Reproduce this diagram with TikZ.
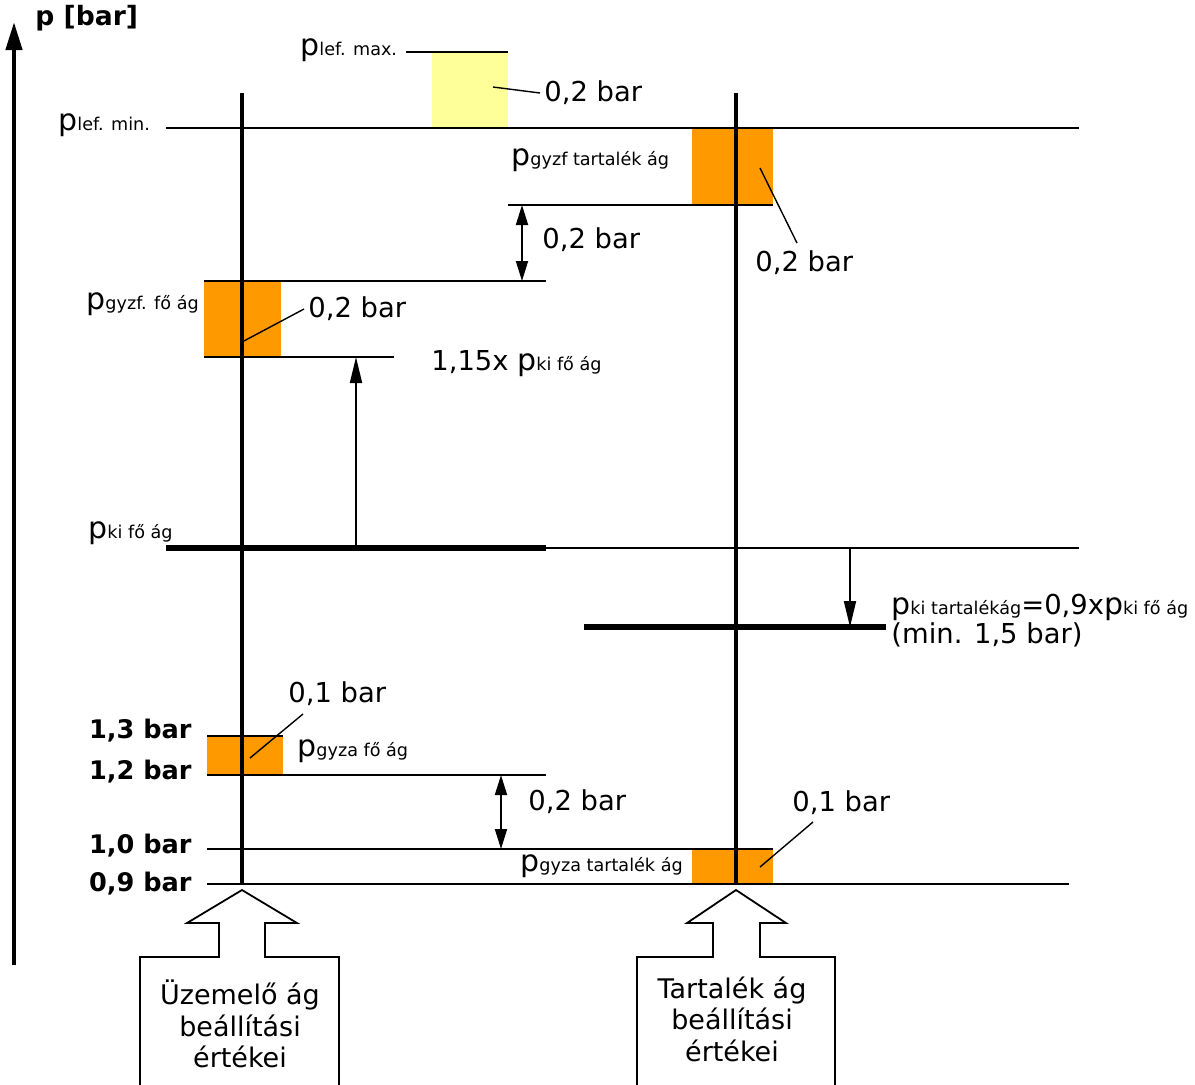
\documentclass[tikz,border=0pt]{standalone}
\usepackage{fontspec}
\setmainfont{DejaVu Sans}
\usetikzlibrary{arrows.meta, positioning}
\definecolor{lefyellow}{HTML}{FFFF99}
\definecolor{gyzorange}{HTML}{FF9900}
\newcommand{\pidx}[1]{{\fontsize{15}{16}\selectfont p}{\fontsize{8.8}{10}\selectfont #1}}

\begin{document}
\begin{tikzpicture}[x=0.5pt, y=-0.5pt,
    lbl/.style={inner sep=0pt, anchor=west, font=\fontsize{13.7}{16}\selectfont},
    barlbl/.style={inner sep=0pt, anchor=east, font=\fontsize{12.8}{15}\selectfont\bfseries},
    level/.style={line width=0.9pt},
    heavy/.style={line width=2.6pt},
    branch/.style={line width=1.6pt},
    leader/.style={line width=0.7pt},
    pfeil/.style={level, -{Triangle[length=13pt,width=6pt]}},
    dpfeil/.style={level, {Triangle[length=10pt,width=6pt]}-{Triangle[length=10pt,width=6pt]}},
    blockarrow/.style={line width=0.9pt, fill=white}]
    \useasboundingbox (0,0) rectangle (1195,1084);
    % pressure axis
    \draw[line width=2.2pt, -{Triangle[length=14pt,width=8pt]}] (14,965) -- (14,22);
    \node[inner sep=0pt, anchor=west, font=\fontsize{13.3}{15}\selectfont\bfseries] (ytitle) at (35,18) {p [bar]};
    % fields
    \fill[lefyellow] (432,53) rectangle (508,128);
    \fill[gyzorange] (692,129) rectangle (773,205);
    \fill[gyzorange] (204,282) rectangle (281,357);
    \fill[gyzorange] (207,736) rectangle (283,775);
    \fill[gyzorange] (692,849) rectangle (773,884);
    % levels
    \draw[level] (406,52) -- (508,52);
    \draw[level] (166,128) -- (1079,128);
    \draw[level] (508,205) -- (773,205);
    \draw[level] (204,281) -- (546,281);
    \draw[level] (204,357) -- (394,357);
    \draw[heavy] (166,548) -- (546,548);
    \draw[level] (546,548) -- (1079,548);
    \draw[heavy] (584,627) -- (886,627);
    \draw[level] (207,736) -- (283,736);
    \draw[level] (207,775) -- (546,775);
    \draw[level] (207,849) -- (773,849);
    \draw[level] (207,884) -- (1069,884);
    % branches
    \draw[branch] (242,93) -- (242,885);
    \draw[branch] (736,93) -- (736,885);
    % distances
    \draw[dpfeil] (522,205) -- (522,281);
    \draw[pfeil] (356,548) -- (356,357);
    \draw[pfeil] (850,548) -- (850,627);
    \draw[dpfeil] (501,775) -- (501,849);
    % texts
    \node[lbl] (lefmax) at (300,50) {\pidx{lef. max.}};
    \node[lbl] (lefmin) at (58,125) {\pidx{lef. min.}};
    \node[lbl] (lefd) at (544,93) {0,2 bar};
    \node[lbl] (gyzft) at (511,160) {\pidx{gyzf tartalék ág}};
    \node[lbl] (gapft) at (542,240) {0,2 bar};
    \node[lbl] (gyzftd) at (755,263) {0,2 bar};
    \node[lbl] (gyzff) at (86,304) {\pidx{gyzf. fő ág}};
    \node[lbl] (gyzffd) at (308,309) {0,2 bar};
    \node[lbl] (kif115) at (431,364) {1,15x \pidx{ki fő ág}};
    \node[lbl] (kif) at (88,533) {\pidx{ki fő ág}};
    \node[lbl] (kit) at (891,607) {\pidx{ki tartalékág}=0,9x\pidx{ki fő ág}};
    \node[lbl] (kitmin) at (891,635) {(min. 1,5 bar)};
    \node[lbl] (gyzafd) at (288,694) {0,1 bar};
    \node[lbl] (gyzaf) at (297,751) {\pidx{gyza fő ág}};
    \node[lbl] (gapa) at (528,802) {0,2 bar};
    \node[lbl] (gyzatd) at (792,803) {0,1 bar};
    \node[lbl] (gyzat) at (520,866) {\pidx{gyza tartalék ág}};
    \node[barlbl] (b13) at (192,731) {1,3 bar};
    \node[barlbl] (b12) at (192,772) {1,2 bar};
    \node[barlbl] (b10) at (192,846) {1,0 bar};
    \node[barlbl] (b09) at (192,884) {0,9 bar};
    % leaders
    \coordinate (lefin) at (493,87);
    \coordinate (gyzftin) at (760,168);
    \coordinate (gyzftend) at (797,243);
    \coordinate (gyzffin) at (242,342);
    \coordinate (gyzafin) at (250,758);
    \coordinate (gyzafend) at (303,714);
    \coordinate (gyzatin) at (760,867);
    \coordinate (gyzatend) at (813,822);
    \draw[leader] (lefin) -- ([xshift=-2]lefd.west);
    \draw[leader] (gyzftin) -- (gyzftend);
    \draw[leader] (gyzffin) -- ([xshift=-2]gyzffd.west);
    \draw[leader] (gyzafin) -- (gyzafend);
    \draw[leader] (gyzatin) -- (gyzatend);
    % setting arrows
    \draw[blockarrow] (242,890) -- (297,923) -- (265,923) -- (265,957) -- (339,957)
        -- (339,1095) -- (140,1095) -- (140,957) -- (219,957) -- (219,923) -- (187,923) -- cycle;
    \draw[blockarrow] (736,890) -- (786,923) -- (760,923) -- (760,957) -- (835,957)
        -- (835,1095) -- (637,1095) -- (637,957) -- (713,957) -- (713,923) -- (687,923) -- cycle;
    \node[align=center, font=\fontsize{13.5}{15.8}\selectfont] (mainset) at (240,1024) {Üzemelő ág\\beállítási\\értékei};
    \node[align=center, font=\fontsize{13.5}{15.8}\selectfont] (spareset) at (732,1019) {Tartalék ág\\beállítási\\értékei};
\end{tikzpicture}
\end{document}
